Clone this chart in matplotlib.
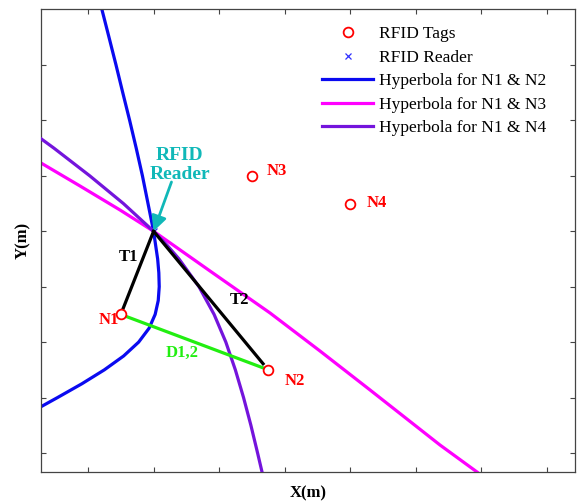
import matplotlib
matplotlib.use('Agg')
import matplotlib.pyplot as plt

plt.rcParams['font.family'] = ['Liberation Serif', 'DejaVu Serif']

# ---- data (metres) ----
tag_names = ['N1', 'N2', 'N3', 'N4']
tag_x = [1.5, 3.75, 3.5, 5.0]
tag_y = [3.5, 2.5, 6.0, 5.5]

reader_x = [2.0]
reader_y = [5.0]

# Hyperbola for N1 & N2
h12_x = [1.21, 1.32, 1.427, 1.53, 1.635, 1.735, 1.83, 1.915, 2.0, 2.062, 2.08, 2.086, 2.071, 2.024, 1.931,
         1.772, 1.543, 1.249, 0.908, 0.535, 0.283]
h12_y = [9.01, 8.5, 8.0, 7.5, 7.0, 6.5, 6.0, 5.5, 5.0, 4.5, 4.25, 4.0, 3.75, 3.5, 3.25,
         3.0, 2.75, 2.5, 2.25, 2.0, 1.835]

# Hyperbola for N1 & N3
h13_x = [0.283, 0.878, 1.488, 2.0, 2.861, 3.776, 4.538, 5.301, 6.368, 6.933]
h13_y = [6.232, 5.817, 5.384, 5.0, 4.283, 3.526, 2.840, 2.137, 1.144, 0.657]

# Hyperbola for N1 & N4
h14_x = [0.283, 0.48, 1.027, 1.54, 2.0, 2.204, 2.388, 2.692, 2.923, 3.102, 3.247, 3.372, 3.484, 3.586, 3.654]
h14_y = [6.67, 6.5, 6.0, 5.5, 5.0, 4.75, 4.5, 4.0, 3.5, 3.0, 2.5, 2.0, 1.5, 1.0, 0.657]

# T1: reader -> N1, T2: reader -> near N2, D1,2: N1 -> N2
t1_x = [2.0, 1.5]
t1_y = [5.0, 3.5]
t2_x = [2.0, 3.67]
t2_y = [5.0, 2.61]
d12_x = [1.5, 3.75]
d12_y = [3.5, 2.5]

x_ticks = [1, 2, 3, 4, 5, 6, 7, 8]
y_ticks = [1, 2, 3, 4, 5, 6, 7, 8]

# ---- figure ----
fig = plt.figure(figsize=(5.8, 5.04), dpi=100)
ax = fig.add_axes([41/580, (504-472)/504, (575-41)/580, (472-9)/504])

BLUE = '#0a0af0'
MAG = '#ff00ff'
PURP = '#7414dc'
GREEN = '#22ee11'
CYAN = '#10b8b8'
RED = '#ff0000'

lw = 2.3
rd, = ax.plot(reader_x, reader_y, 'x', color='#3030ff', ms=5, mew=0.9, zorder=1, label='RFID Reader')
hb, = ax.plot(h12_x, h12_y, color=BLUE, lw=lw, zorder=2, solid_joinstyle='round', label='Hyperbola for N1 & N2')
hm, = ax.plot(h13_x, h13_y, color=MAG, lw=lw, zorder=2, solid_joinstyle='round', label='Hyperbola for N1 & N3')
hp, = ax.plot(h14_x, h14_y, color=PURP, lw=lw, zorder=3, solid_joinstyle='round', label='Hyperbola for N1 & N4')
ax.plot(d12_x, d12_y, color=GREEN, lw=lw, zorder=3.5)
ax.plot(t1_x, t1_y, color='black', lw=lw, zorder=4)
ax.plot(t2_x, t2_y, color='black', lw=lw, zorder=4)
tg, = ax.plot(tag_x, tag_y, 'o', ms=7, mfc='white', mec=RED, mew=1.3, zorder=6, label='RFID Tags')

# tag labels
offsets = [(-8.6, -4.3), (19.4, -7.9), (18.2, 3.6), (18.9, 0.7)]
for name, x, y, off in zip(tag_names, tag_x, tag_y, offsets):
    ax.annotate(name, (x, y), xytext=off, textcoords='offset points', ha='center', va='center',
                color=RED, fontsize=12, fontweight='bold', zorder=7)

ax.text(1.625, 4.54, 'T1', color='black', fontsize=12, fontweight='bold', ha='center', va='center', zorder=7)
ax.text(3.31, 3.76, 'T2', color='black', fontsize=12, fontweight='bold', ha='center', va='center', zorder=7)
ax.text(2.434, 2.80, 'D1,2', color=GREEN, fontsize=12, fontweight='bold', ha='center', va='center', zorder=7)

# RFID Reader annotation
ax.text(2.40, 6.19, 'RFID\nReader', color=CYAN, fontsize=14, fontweight='bold', ha='center', va='center',
        linespacing=1.15, zorder=7)
ax.annotate('', xy=(reader_x[0], reader_y[0]), xytext=(2.273, 5.889),
            arrowprops=dict(arrowstyle='-|>,head_length=0.9,head_width=0.45', color=CYAN, lw=2.0,
                            shrinkA=0, shrinkB=0), zorder=7)

ax.set_xlim(0.283, 8.427)
ax.set_ylim(0.657, 9.01)
ax.set_xticks(x_ticks)
ax.set_yticks(y_ticks)
ax.tick_params(direction='in', length=3.6, width=0.8, color='#444444', top=True, right=True,
               labelbottom=False, labelleft=False)
for s in ax.spines.values():
    s.set_color('#444444')
    s.set_linewidth(0.9)

ax.set_xlabel('X(m)', fontsize=12, fontweight='bold', labelpad=10)
ax.set_ylabel('Y(m)', fontsize=12, fontweight='bold', labelpad=7)

leg = ax.legend(handles=[tg, rd, hb, hm, hp], loc='upper right', bbox_to_anchor=(0.959, 0.978),
                frameon=False, fontsize=12.5, handlelength=2.9, handletextpad=0.35, labelspacing=0.42,
                borderaxespad=0.0)

fig.savefig('out.png', dpi=100)
